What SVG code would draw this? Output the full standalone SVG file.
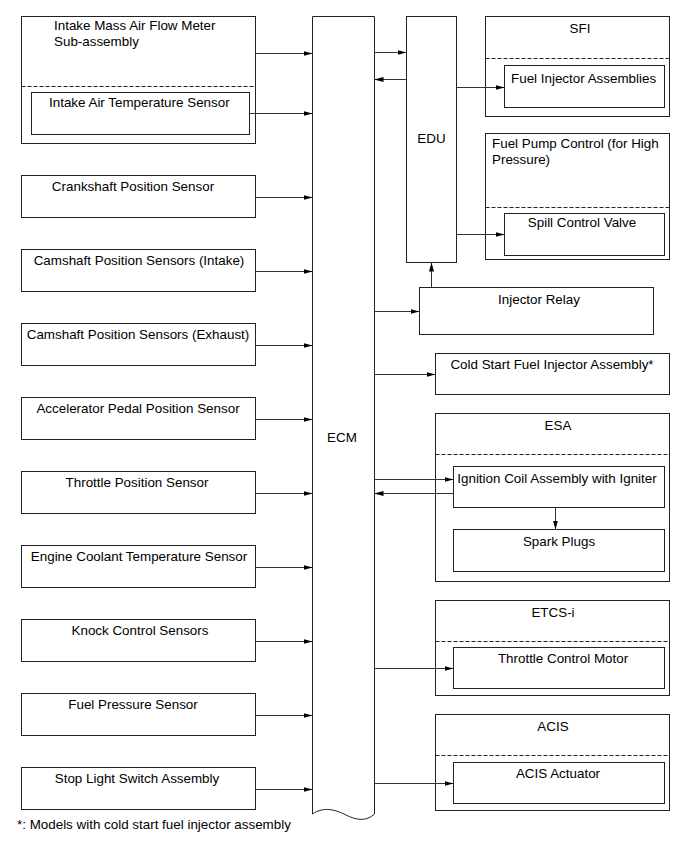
<svg xmlns="http://www.w3.org/2000/svg" width="691" height="854" viewBox="0 0 691 854">
<style>
.box{fill:#fff;stroke:#222;stroke-width:1}
.dash{stroke:#222;stroke-width:1;stroke-dasharray:4,2;fill:none}
.ln{stroke:#333;stroke-width:1;fill:none}
text{font-family:"Liberation Sans",Arial,sans-serif;font-size:13.4px;fill:#000}
.c{text-anchor:middle}
</style>
<defs>
<marker id="ah" markerWidth="9" markerHeight="6" refX="9" refY="3" orient="auto" markerUnits="userSpaceOnUse">
<path d="M0,0.5 L9,3 L0,5.5 Z" fill="#000"/>
</marker>
</defs>
<rect width="691" height="854" fill="#fff"/>

<g id="maf">
<rect class="box" x="21.5" y="16.5" width="234" height="127"/>
<line class="dash" x1="21.5" y1="86.5" x2="255.5" y2="86.5"/>
<text x="54" y="30">Intake Mass Air Flow Meter</text>
<text x="54" y="46">Sub-assembly</text>
</g>
<g id="iat">
<rect class="box" x="31.5" y="92.5" width="218" height="42"/>
<text x="49" y="107">Intake Air Temperature Sensor</text>
</g>
<g id="ckp"><rect class="box" x="21.5" y="175.5" width="234" height="42"/><text class="c" x="133" y="191">Crankshaft Position Sensor</text></g>
<g id="cmpi"><rect class="box" x="21.5" y="249.5" width="234" height="42"/><text class="c" x="139" y="265">Camshaft Position Sensors (Intake)</text></g>
<g id="cmpe"><rect class="box" x="21.5" y="323.5" width="234" height="42"/><text class="c" x="138" y="339">Camshaft Position Sensors (Exhaust)</text></g>
<g id="app"><rect class="box" x="21.5" y="397.5" width="234" height="42"/><text class="c" x="138" y="413">Accelerator Pedal Position Sensor</text></g>
<g id="tps"><rect class="box" x="21.5" y="471.5" width="234" height="42"/><text class="c" x="137" y="487">Throttle Position Sensor</text></g>
<g id="ect"><rect class="box" x="21.5" y="545.5" width="234" height="42"/><text class="c" x="139" y="561">Engine Coolant Temperature Sensor</text></g>
<g id="ks"><rect class="box" x="21.5" y="619.5" width="234" height="42"/><text class="c" x="140" y="635">Knock Control Sensors</text></g>
<g id="fps"><rect class="box" x="21.5" y="693.5" width="234" height="42"/><text class="c" x="133" y="709">Fuel Pressure Sensor</text></g>
<g id="sls"><rect class="box" x="21.5" y="767.5" width="234" height="42"/><text class="c" x="137" y="783">Stop Light Switch Assembly</text></g>

<g id="ecm">
<path class="box" d="M312.5,16.5 L374.5,16.5 L374.5,814 C366,822 356,820 346,815 C336,810 324,806 312.5,814 Z"/>
<text class="c" x="342" y="442">ECM</text>
</g>

<g id="edu">
<rect class="box" x="406.5" y="16.5" width="50" height="246"/>
<text class="c" x="431.5" y="143">EDU</text>
</g>

<g id="sfi">
<rect class="box" x="485.5" y="16.5" width="184" height="100"/>
<line class="dash" x1="485.5" y1="58.5" x2="669.5" y2="58.5"/>
<text class="c" x="580" y="33">SFI</text>
</g>
<g id="inj">
<rect class="box" x="504.5" y="65.5" width="160" height="42"/>
<text x="511" y="83">Fuel Injector Assemblies</text>
</g>

<g id="fpc">
<rect class="box" x="485.5" y="133.5" width="184" height="126"/>
<line class="dash" x1="485.5" y1="207.5" x2="669.5" y2="207.5"/>
<text x="492" y="148">Fuel Pump Control (for High</text>
<text x="492" y="164">Pressure)</text>
</g>
<g id="scv">
<rect class="box" x="504.5" y="213.5" width="160" height="42"/>
<text class="c" x="582" y="227">Spill Control Valve</text>
</g>

<g id="relay">
<rect class="box" x="419.5" y="287.5" width="234" height="47"/>
<text class="c" x="539" y="304">Injector Relay</text>
</g>

<g id="csfi">
<rect class="box" x="435.5" y="353.5" width="234" height="41"/>
<text class="c" x="552" y="369">Cold Start Fuel Injector Assembly*</text>
</g>

<g id="esa">
<rect class="box" x="435.5" y="413.5" width="234" height="168"/>
<line class="dash" x1="435.5" y1="454.5" x2="669.5" y2="454.5"/>
<text class="c" x="558" y="430">ESA</text>
</g>
<g id="igc">
<rect class="box" x="453.5" y="466.5" width="211" height="41"/>
<text class="c" x="557" y="483">Ignition Coil Assembly with Igniter</text>
</g>
<g id="spark">
<rect class="box" x="453.5" y="529.5" width="211" height="42"/>
<text class="c" x="559" y="546">Spark Plugs</text>
</g>

<g id="etcs">
<rect class="box" x="435.5" y="600.5" width="234" height="95"/>
<line class="dash" x1="435.5" y1="641.5" x2="669.5" y2="641.5"/>
<text class="c" x="553" y="617">ETCS-i</text>
</g>
<g id="tcm">
<rect class="box" x="453.5" y="647.5" width="211" height="41"/>
<text class="c" x="563" y="663">Throttle Control Motor</text>
</g>

<g id="acis">
<rect class="box" x="435.5" y="714.5" width="234" height="96"/>
<line class="dash" x1="435.5" y1="755.5" x2="669.5" y2="755.5"/>
<text class="c" x="553" y="731">ACIS</text>
</g>
<g id="acisact">
<rect class="box" x="453.5" y="762.5" width="211" height="41"/>
<text class="c" x="558" y="778">ACIS Actuator</text>
</g>

<text x="17" y="829">*: Models with cold start fuel injector assembly</text>

<g id="connectors">
<line class="ln" x1="255.5" y1="53.5" x2="312.5" y2="53.5" marker-end="url(#ah)"/>
<line class="ln" x1="249.5" y1="113.5" x2="312.5" y2="113.5" marker-end="url(#ah)"/>
<line class="ln" x1="255.5" y1="197.5" x2="312.5" y2="197.5" marker-end="url(#ah)"/>
<line class="ln" x1="255.5" y1="271.5" x2="312.5" y2="271.5" marker-end="url(#ah)"/>
<line class="ln" x1="255.5" y1="345.5" x2="312.5" y2="345.5" marker-end="url(#ah)"/>
<line class="ln" x1="255.5" y1="419.5" x2="312.5" y2="419.5" marker-end="url(#ah)"/>
<line class="ln" x1="255.5" y1="493.5" x2="312.5" y2="493.5" marker-end="url(#ah)"/>
<line class="ln" x1="255.5" y1="567.5" x2="312.5" y2="567.5" marker-end="url(#ah)"/>
<line class="ln" x1="255.5" y1="641.5" x2="312.5" y2="641.5" marker-end="url(#ah)"/>
<line class="ln" x1="255.5" y1="715.5" x2="312.5" y2="715.5" marker-end="url(#ah)"/>
<line class="ln" x1="255.5" y1="789.5" x2="312.5" y2="789.5" marker-end="url(#ah)"/>

<line class="ln" x1="374.5" y1="52.5" x2="406.5" y2="52.5" marker-end="url(#ah)"/>
<line class="ln" x1="406.5" y1="79.5" x2="374.5" y2="79.5" marker-end="url(#ah)"/>
<line class="ln" x1="456.5" y1="87.5" x2="504.5" y2="87.5" marker-end="url(#ah)"/>
<line class="ln" x1="456.5" y1="234.5" x2="504.5" y2="234.5" marker-end="url(#ah)"/>
<line class="ln" x1="431.5" y1="287.5" x2="431.5" y2="262.5" marker-end="url(#ah)"/>
<line class="ln" x1="374.5" y1="311.5" x2="419.5" y2="311.5" marker-end="url(#ah)"/>
<line class="ln" x1="374.5" y1="374.5" x2="435.5" y2="374.5" marker-end="url(#ah)"/>
<line class="ln" x1="374.5" y1="479.5" x2="453.5" y2="479.5" marker-end="url(#ah)"/>
<line class="ln" x1="453.5" y1="493.5" x2="374.5" y2="493.5" marker-end="url(#ah)"/>
<line class="ln" x1="555.5" y1="507.5" x2="555.5" y2="529.5" marker-end="url(#ah)"/>
<line class="ln" x1="374.5" y1="668.5" x2="453.5" y2="668.5" marker-end="url(#ah)"/>
<line class="ln" x1="374.5" y1="783.5" x2="453.5" y2="783.5" marker-end="url(#ah)"/>
</g>
</svg>
